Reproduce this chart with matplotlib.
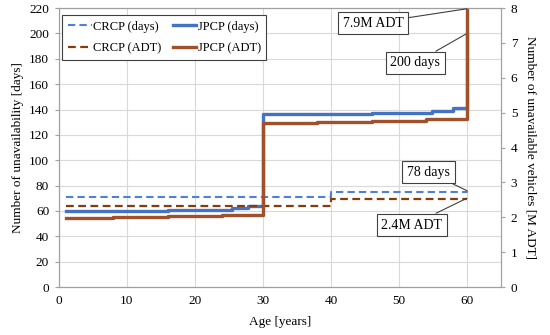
import numpy as np
import matplotlib
matplotlib.use("Agg")
import matplotlib.pyplot as plt

plt.rcParams['font.family'] = ['Liberation Serif', 'DejaVu Serif']
plt.rcParams['font.size'] = 9.5

# Datos (escalonados)
crcp_days_x = [1, 40, 60]
crcp_days_y = [70.7, 74.7, 76]
jpcp_days_x = [1, 16, 25.4, 27.8, 30, 46, 54.8, 58, 60]
jpcp_days_y = [60.2, 61, 62.5, 64, 136.2, 137.5, 139, 141, 200]

crcp_adt_x = [1, 40, 60]
crcp_adt_y = [2.33, 2.52, 2.52]
jpcp_adt_x = [1, 8, 16, 24, 30, 38, 46, 54, 60]
jpcp_adt_y = [1.99, 2.02, 2.05, 2.08, 4.71, 4.74, 4.77, 4.81, 7.98]

blue_dash = '#4F7FD8'
blue = '#4472C4'
brown_dash = '#843C0C'
brown = '#A0502A'
spine_c = '#A0A0A0'

fig, ax1 = plt.subplots(figsize=(5.5, 3.35), dpi=100)
fig.subplots_adjust(left=0.107, right=0.911, top=0.976, bottom=0.143)
ax2 = ax1.twinx()

l1, = ax1.plot(crcp_days_x, crcp_days_y, drawstyle='steps-post', color=blue_dash,
               lw=1.5, ls=(0, (3.5, 2)), label='CRCP (days)')
l2, = ax1.plot(jpcp_days_x, jpcp_days_y, drawstyle='steps-post', color=blue,
               lw=2.4, label='JPCP (days)')
l3, = ax2.plot(crcp_adt_x, crcp_adt_y, drawstyle='steps-post', color=brown_dash,
               lw=1.6, ls=(0, (3.5, 2)), label='CRCP (ADT)')
l4, = ax2.plot(jpcp_adt_x, jpcp_adt_y, drawstyle='steps-post', color=brown,
               lw=2.4, label='JPCP (ADT)')

ax1.set_xlim(0, 65)
ax1.set_ylim(0, 220)
ax2.set_ylim(0, 8)
ax1.set_xticks(np.arange(0, 61, 10))
ax1.set_yticks(np.arange(0, 221, 20))
ax2.set_yticks(np.arange(0, 9, 1))

ax1.grid(True, color='#D9D9D9', lw=0.8)
ax1.set_axisbelow(True)

for ax in (ax1, ax2):
    for s in ax.spines.values():
        s.set_color(spine_c)
        s.set_linewidth(0.8)
    ax.tick_params(length=3, color=spine_c, labelsize=9.5, pad=4)
ax1.tick_params(axis='x', length=0, pad=6)

ax1.set_xlabel('Age [years]', fontsize=9.5, labelpad=6)
ax1.set_ylabel('Number of unavailability [days]', fontsize=9.5, labelpad=4)
ax2.set_ylabel('Number of unavailable vehicles [M ADT]', fontsize=9.5,
               rotation=270, labelpad=14)

leg = ax2.legend(handles=[l1, l3, l2, l4], ncol=2, loc='upper left',
                 bbox_to_anchor=(0.008, 0.975), fancybox=False, framealpha=1,
                 edgecolor='#404040', fontsize=9, handlelength=1.9,
                 handletextpad=0.1, columnspacing=0.9, borderpad=0.45,
                 labelspacing=0.75, borderaxespad=0)
leg.get_frame().set_linewidth(0.8)

box = dict(boxstyle='square,pad=0.35', fc='white', ec='#404040', lw=0.8)
arr = dict(arrowstyle='-', color='#404040', lw=0.8, shrinkA=0, shrinkB=0)
ax2.annotate('7.9M ADT', xy=(60, 7.98), xytext=(46.2, 7.57), ha='center',
             va='center', fontsize=10, bbox=box, arrowprops=arr)
ax1.annotate('200 days', xy=(60, 200), xytext=(52.4, 176.7), ha='center',
             va='center', fontsize=10, bbox=box, arrowprops=arr)
ax1.annotate('78 days', xy=(60, 76), xytext=(54.3, 90.7), ha='center',
             va='center', fontsize=10, bbox=box, arrowprops=arr)
ax2.annotate('2.4M ADT', xy=(60, 2.55), xytext=(51.9, 1.78), ha='center',
             va='center', fontsize=10, bbox=box, arrowprops=arr)

plt.savefig('out.png', dpi=100)
